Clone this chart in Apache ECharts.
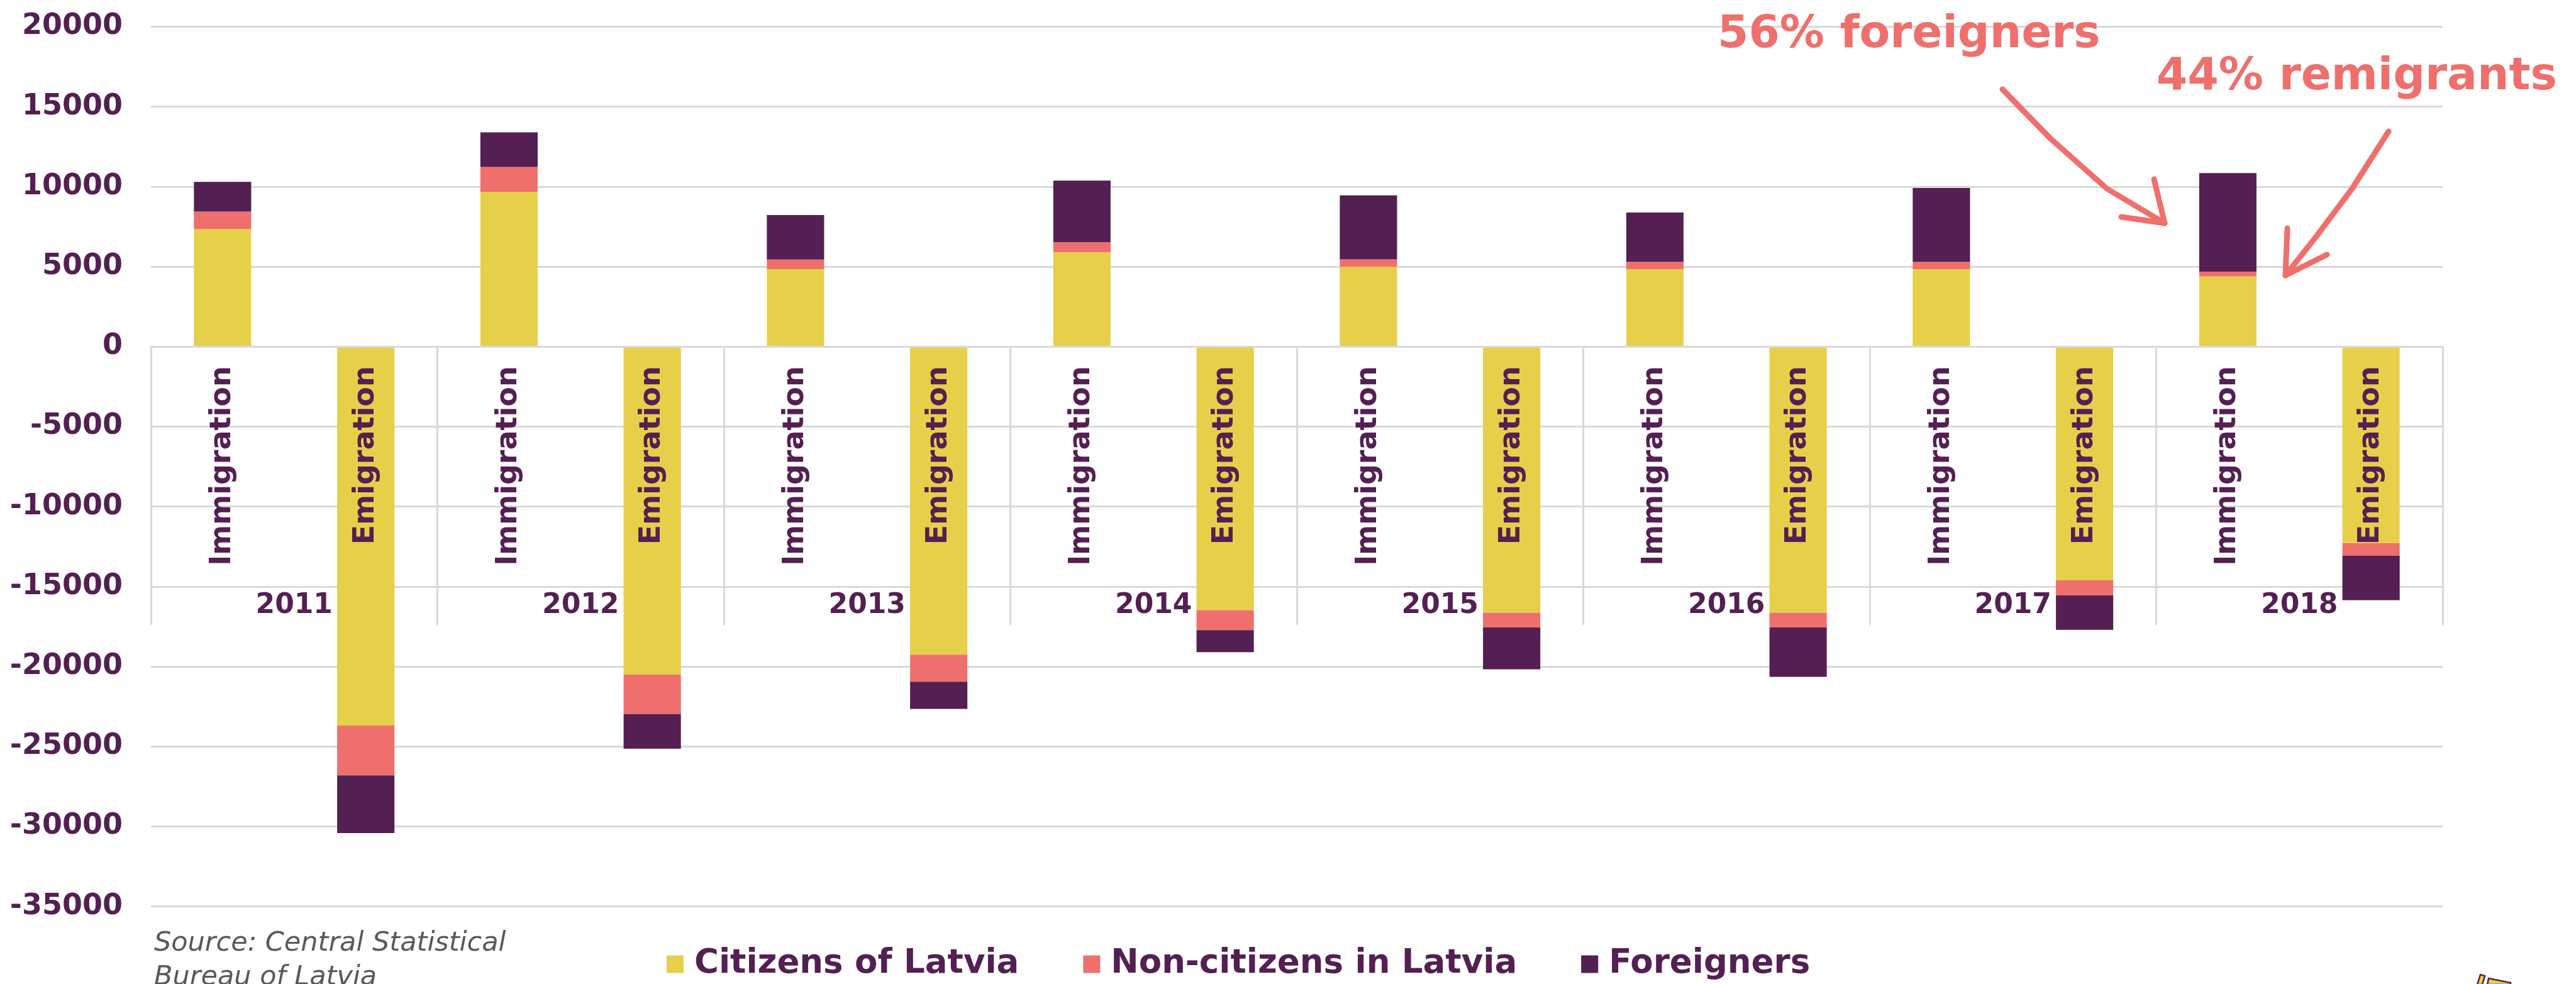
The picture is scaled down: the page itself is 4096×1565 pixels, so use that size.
<!DOCTYPE html>
<html>
<head>
<meta charset="utf-8">
<script src="https://cdn.jsdelivr.net/npm/echarts@6/dist/echarts.min.js"></script>
<style>
html, body { margin: 0; padding: 0; background: #ffffff; }
#chart { width: 4096px; height: 1565px; }
</style>
</head>
<body>
<div id="chart"></div>
<script>
// ---- data ----
const years = ['2011', '2012', '2013', '2014', '2015', '2016', '2017', '2018'];
const flowLabels = ['Immigration', 'Emigration'];
const seriesNames = ['Citizens of Latvia', 'Non-citizens in Latvia', 'Foreigners'];

const immCitizens    = [7350, 9680, 4850, 5910, 4990, 4850, 4850, 4380];
const immNonCitizens = [1090, 1550,  600,  620,  470,  450,  450,  310];
const immForeigners  = [1860, 2170, 2780, 3850, 4000, 3080, 4620, 6160];

const emiCitizens    = [23690, 20500, 19260, 16480, 16640, 16640, 14610, 12290];
const emiNonCitizens = [ 3120,  2470,  1690,  1250,   920,   920,   940,   780];
const emiForeigners  = [ 3600,  2170,  1700,  1370,  2610,  3080,  2160,  2780];

const yMin = -35000, yMax = 20000, yStep = 5000;

const annotations = ['56% foreigners', '44% remigrants'];
const sourceText = 'Source: Central Statistical\nBureau of Latvia';

// ---- build ----
const categories = [];
years.forEach(() => flowLabels.forEach(f => categories.push(f)));
function interleave(imm, emi) {
  const out = [];
  imm.forEach((v, i) => { out.push(v); out.push(-emi[i]); });
  return out;
}
const seriesData = [
  interleave(immCitizens, emiCitizens),
  interleave(immNonCitizens, emiNonCitizens),
  interleave(immForeigners, emiForeigners)
];
const colors = ['#E6D04A', '#EE6F6C', '#541F52'];
const textColor = '#541F52';
const gridColor = '#D9D9D9';
const font = 'DejaVu Sans';
const coral = '#EF6F6C';

const gridTop = 42.5, gridBottom = 123.3, chartH = 1565;
// distance from the grid's bottom edge up to the zero line (the category axes sit on y = 0)
const plotH = chartH - gridTop - gridBottom;
const zeroOffset = -plotH * (0 - yMin) / (yMax - yMin);

const chart = echarts.init(document.getElementById('chart'), null, { renderer: 'canvas' });

const option = {
  animation: false,
  backgroundColor: '#ffffff',
  grid: { left: 240, right: 212, top: gridTop, bottom: gridBottom, containLabel: false, outerBoundsMode: 'none' },
  legend: {
    data: seriesNames,
    left: 1060, top: 1507, padding: 0,
    itemWidth: 27, itemHeight: 28, itemGap: 102,
    icon: 'rect',
    selectedMode: false,
    textStyle: { fontFamily: font, fontWeight: 'bold', fontSize: 53, color: textColor, padding: [0, 0, 0, 12] }
  },
  xAxis: [
    {
      type: 'category',
      data: categories,
      position: 'bottom',
      offset: zeroOffset,
      z: 3,
      axisLine: { show: true, onZero: false, lineStyle: { color: gridColor, width: 3 } },
      axisTick: { show: false },
      axisLabel: {
        show: true, interval: 0, rotate: 90, margin: 31, hideOverlap: false,
        fontFamily: font, fontWeight: 'bold', fontSize: 46, color: textColor
      },
      splitLine: { show: false }
    },
    {
      type: 'category',
      data: years,
      position: 'bottom',
      offset: zeroOffset,
      z: 3,
      axisLine: { show: false, onZero: false },
      axisTick: { show: true, interval: 0, length: 443, inside: false, lineStyle: { color: gridColor, width: 3 } },
      axisLabel: {
        show: true, interval: 0, margin: 390, hideOverlap: false,
        fontFamily: font, fontWeight: 'bold', fontSize: 44, color: textColor
      },
      splitLine: { show: false }
    }
  ],
  yAxis: {
    type: 'value',
    min: yMin, max: yMax, interval: yStep,
    axisLine: { show: false },
    axisTick: { show: false },
    axisLabel: {
      margin: 45, fontFamily: font, fontWeight: 'bold', fontSize: 46, color: textColor,
      formatter: v => String(v)
    },
    splitLine: { show: true, lineStyle: { color: gridColor, width: 3 } }
  },
  series: seriesNames.map((name, i) => ({
    name: name,
    type: 'bar',
    stack: 'flow',
    xAxisIndex: 0,
    barWidth: '40%',
    itemStyle: { color: colors[i] },
    emphasis: { disabled: true },
    data: seriesData[i]
  })),
  graphic: [
    { type: 'text', x: 2731, y: 57, z: 10,
      style: { text: annotations[0], fill: coral, fontFamily: font, fontWeight: 'bold', fontSize: 71, verticalAlign: 'middle', align: 'left' } },
    { type: 'text', x: 3429, y: 124, z: 10,
      style: { text: annotations[1], fill: coral, fontFamily: font, fontWeight: 'bold', fontSize: 71, verticalAlign: 'middle', align: 'left' } },
    { type: 'polyline', z: 10,
      shape: { points: [[3184, 142], [3260, 220], [3350, 300], [3442, 355]] },
      style: { stroke: coral, lineWidth: 9, lineCap: 'round', lineJoin: 'round', fill: null } },
    { type: 'polyline', z: 10,
      shape: { points: [[3425, 285], [3442, 355], [3373, 345]] },
      style: { stroke: coral, lineWidth: 9, lineCap: 'round', lineJoin: 'round', fill: null } },
    { type: 'polyline', z: 10,
      shape: { points: [[3798, 209], [3740, 300], [3680, 380], [3634, 438]] },
      style: { stroke: coral, lineWidth: 9, lineCap: 'round', lineJoin: 'round', fill: null } },
    { type: 'polyline', z: 10,
      shape: { points: [[3637, 363], [3634, 438], [3700, 405]] },
      style: { stroke: coral, lineWidth: 9, lineCap: 'round', lineJoin: 'round', fill: null } },
    { type: 'text', x: 245, y: 1474, z: 10,
      style: { text: sourceText, fill: '#595959', fontFamily: '"DejaVu Sans ExtraLight", "DejaVu Sans"', fontStyle: 'italic', fontWeight: 200, fontSize: 43, lineHeight: 54, verticalAlign: 'top', align: 'left' } },
    { type: 'polygon', z: 10,
      shape: { points: [[3939, 1566], [3944, 1550], [3951, 1552], [3947, 1566]] },
      style: { fill: '#E6D04A', stroke: '#541F52', lineWidth: 2.5 } },
    { type: 'polygon', z: 10,
      shape: { points: [[3955, 1566], [3957, 1556], [3992, 1563], [3992, 1566]] },
      style: { fill: '#E6D04A', stroke: '#541F52', lineWidth: 2.5 } }
  ]
};
chart.setOption(option);
</script>
</body>
</html>
